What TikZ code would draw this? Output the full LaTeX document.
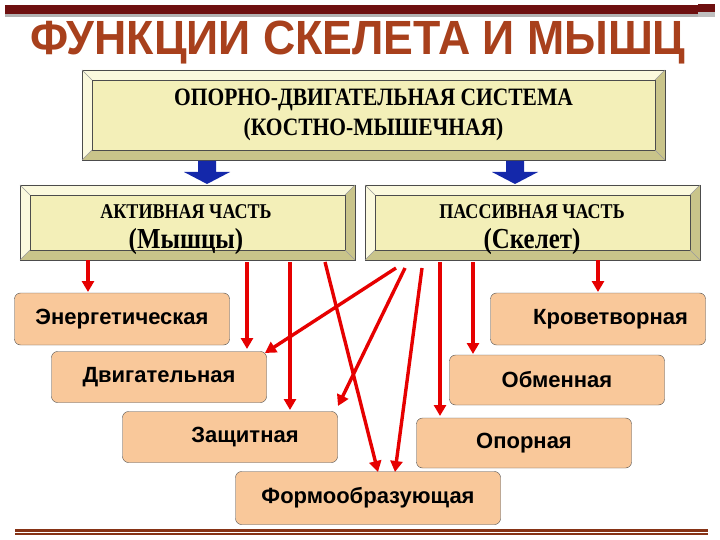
\documentclass[tikz,border=0pt]{standalone}
\usepackage{fontspec}
\setmainfont{Liberation Serif}
\newfontfamily\arialf{Liberation Sans}
\usetikzlibrary{arrows.meta}
\definecolor{bev}{HTML}{F3EFB8}
\definecolor{bevL}{HTML}{FBF9DD}
\definecolor{bevD}{HTML}{C9C48A}
\definecolor{org}{HTML}{F9C89A}
\definecolor{ttl}{HTML}{A8401C}
\definecolor{dred}{HTML}{6E1010}
\newcommand{\cnd}[1]{\scalebox{0.86}[1]{#1}}
\tikzset{
  obox/.style={draw=black!70, fill=org, rounded corners=6pt, font=\arialf\bfseries\fontsize{22}{26}\selectfont},
  rarr/.style={draw={rgb,255:red,230;green,0;blue,0}, line width=3.4pt, -{Triangle[length=11pt,width=12pt]}},
  barr/.style={fill={rgb,255:red,20;green,40;blue,170}}
}
\newcommand{\bevbox}[5]{% x1 y1 x2 y2 name
  \fill[bevL] (#1,#2) -- (#3,#2) -- ({#3-10},{#2+10}) -- ({#1+10},{#2+10}) -- cycle;
  \fill[bevL] (#1,#2) -- ({#1+10},{#2+10}) -- ({#1+10},{#4-10}) -- (#1,#4) -- cycle;
  \fill[bevD] (#3,#2) -- (#3,#4) -- ({#3-10},{#4-10}) -- ({#3-10},{#2+10}) -- cycle;
  \fill[bevD] (#1,#4) -- (#3,#4) -- ({#3-10},{#4-10}) -- ({#1+10},{#4-10}) -- cycle;
  \draw[black!70, fill=bev] ({#1+10},{#2+10}) rectangle ({#3-10},{#4-10});
  \draw[black!70] (#1,#2) rectangle (#3,#4);
  \draw[black!40] (#1,#2) -- ({#1+10},{#2+10}) (#3,#2) -- ({#3-10},{#2+10}) (#1,#4) -- ({#1+10},{#4-10}) (#3,#4) -- ({#3-10},{#4-10});
  \coordinate (#5) at ({(#1+#3)/2},{(#2+#4)/2});
}
\begin{document}
\begin{tikzpicture}[x=1pt,y=-1pt]
\useasboundingbox[fill=white] (0,0) rectangle (720,540);
% top bar
\fill[dred] (5,5) rectangle (700,14);
\fill[gray!60] (5,14) rectangle (700,17);
\fill[dred] (698,4) rectangle (715,12);
\fill[gray!50] (698,12) rectangle (715,17);
\node[font=\arialf\bfseries\fontsize{48}{52}\selectfont, text=ttl] (title) at (358,43) {\scalebox{0.93}[1]{ФУНКЦИИ СКЕЛЕТА И МЫШЦ}};
% boxes
\bevbox{82}{70}{665}{160}{top}
\node[align=center, font=\bfseries\fontsize{25}{30}\selectfont] (toptxt) at (top) {\cnd{ОПОРНО-ДВИГАТЕЛЬНАЯ СИСТЕМА}\\\cnd{(КОСТНО-МЫШЕЧНАЯ)}};
\bevbox{20}{185}{355}{260}{act}
\node[font=\bfseries\fontsize{21}{24}\selectfont] (a1) at (186,212) {\cnd{АКТИВНАЯ ЧАСТЬ}};
\node[font=\bfseries\fontsize{29}{32}\selectfont] (a2) at (186,242) {\cnd{(Мышцы)}};
\bevbox{365}{185}{700}{260}{pas}
\node[font=\bfseries\fontsize{21}{24}\selectfont] (p1) at (532,212) {\cnd{ПАССИВНАЯ ЧАСТЬ}};
\node[font=\bfseries\fontsize{29}{32}\selectfont] (p2) at (532,242) {\cnd{(Скелет)}};
% blue arrows
\fill[barr] (198,161) rectangle (216,172) (184,172) -- (230,172) -- (207,184) -- cycle;
\fill[barr] (506,161) rectangle (524,172) (492,172) -- (538,172) -- (515,184) -- cycle;
% function boxes
\node[obox, minimum width=215pt, minimum height=52pt] (en) at (122,319) {Энергетическая};
\node[obox, minimum width=215pt, minimum height=51pt] (dv) at (159,377) {Двигательная};
\node[obox, minimum width=215pt, minimum height=51pt, text width=195pt, align=center] (zs) at (230,437) {\hspace*{30pt}Защитная};
\node[obox, minimum width=265pt, minimum height=53pt] (fo) at (368,498) {Формообразующая};
\node[obox, minimum width=215pt, minimum height=52pt, text width=195pt, align=center] (kr) at (598,319) {\hspace*{25pt}Кроветворная};
\node[obox, minimum width=215pt, minimum height=50pt] (ob) at (557,380) {Обменная};
\node[obox, minimum width=215pt, minimum height=50pt] (op) at (524,443) {Опорная};
% red arrows
\coordinate (s1) at (88,260); \coordinate (s2) at (247,262); \coordinate (s3) at (290,262);
\coordinate (s4) at (325,262); \coordinate (s5) at (396,268); \coordinate (s6) at (405,268);
\coordinate (s7) at (422,268); \coordinate (s8) at (440,262); \coordinate (s9) at (473,262);
\coordinate (s10) at (598,260);
\coordinate (e1) at (88,292); \coordinate (e2) at (247,349); \coordinate (e3) at (290,410);
\coordinate (e4) at (378,472); \coordinate (e5) at (265,353); \coordinate (e6) at (338,406);
\coordinate (e7) at (395,472); \coordinate (e8) at (440,416); \coordinate (e9) at (473,354);
\coordinate (e10) at (598,292);
\foreach \i in {1,...,10} { \draw[rarr] (s\i) -- (e\i); }
% bottom rule
\fill[ttl!80!black] (15,529) rectangle (708,531.5);
\fill[ttl!80!black] (15,533) rectangle (708,535);
\end{tikzpicture}
\end{document}
